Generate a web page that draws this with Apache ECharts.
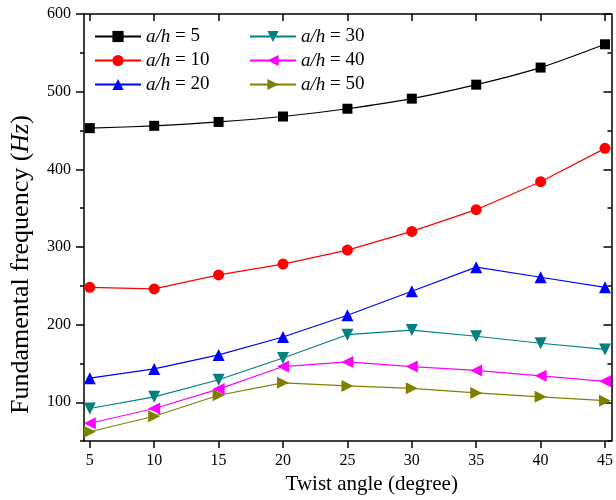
<!DOCTYPE html>
<html>
<head>
<meta charset="utf-8">
<script src="https://cdn.jsdelivr.net/npm/echarts@6/dist/echarts.min.js"></script>
<style>
  html, body { margin: 0; padding: 0; background: #fff; }
  #chart { width: 616px; height: 500px; }
</style>
</head>
<body>
<div id="chart"></div>
<script>
// twist angle (degree)
const angles = [5, 10, 15, 20, 25, 30, 35, 40, 45];
// fundamental frequency (Hz) for each a/h ratio
const ah5 = [453, 456, 461, 468, 478, 491, 509, 531, 561];
const ah10 = [248, 246, 264, 278, 296, 320, 348, 384, 427];
const ah20 = [131, 143, 161, 184, 212, 243, 274, 261, 248];
const ah30 = [92, 107, 129, 157, 187, 193, 185, 176, 168];
const ah40 = [73, 92, 117, 146, 152, 146, 141, 134, 127];
const ah50 = [62, 82, 109, 125, 121, 118, 112, 107, 102];

const xTicks = [5, 10, 15, 20, 25, 30, 35, 40, 45];
const yTicks = [100, 200, 300, 400, 500, 600];
const yMinorTicks = [50, 150, 250, 350, 450, 550];

const font = 'Liberation Serif';

const chart = echarts.init(document.getElementById('chart'));

const pairs = (ys) => angles.map((x, i) => [x, ys[i]]);

const mkSeries = (name, ys, color, symbol, size, rotate, smooth) => ({
  name: name,
  type: 'line',
  data: pairs(ys),
  symbol: symbol,
  symbolSize: size,
  symbolRotate: rotate,
  smooth: smooth,
  lineStyle: { color: color, width: 1.2 },
  itemStyle: { color: color },
  emphasis: { disabled: true },
  z: 3
});

const legendText = {
  fontFamily: font,
  fontSize: 19,
  color: '#000',
  rich: { i: { fontFamily: font, fontSize: 19, fontStyle: 'italic', color: '#000' } }
};
const legendFmt = (name) => '{i|a/h} = ' + name.split('= ')[1];

const axisLine = { show: true, lineStyle: { color: '#000', width: 1.5 } };

const options = {
  animation: false,
  backgroundColor: '#fff',
  grid: { left: 82, right: 4, top: 14, bottom: 58 },
  legend: [
    {
      data: ['a/h = 5', 'a/h = 10', 'a/h = 20'],
      orient: 'vertical',
      left: 89, top: 22,
      itemWidth: 46, itemHeight: 14, itemGap: 5,
      textStyle: legendText,
      formatter: legendFmt
    },
    {
      data: ['a/h = 30', 'a/h = 40', 'a/h = 50'],
      orient: 'vertical',
      left: 244, top: 22,
      itemWidth: 46, itemHeight: 14, itemGap: 5,
      textStyle: legendText,
      formatter: legendFmt
    }
  ],
  xAxis: [
    {
      type: 'value',
      position: 'bottom',
      min: 4.55, max: 45.5,
      axisLine: axisLine,
      axisTick: { show: true, customValues: xTicks, length: 7, lineStyle: { color: '#000', width: 1.5 } },
      axisLabel: { customValues: xTicks, fontFamily: font, fontSize: 16, color: '#000', margin: 12 },
      splitLine: { show: false },
      name: 'Twist angle (degree)',
      nameLocation: 'middle',
      nameGap: 29,
      nameTextStyle: { fontFamily: font, fontSize: 21, color: '#000', padding: [0, 0, 0, 48] }
    },
    {
      type: 'value',
      position: 'top',
      min: 4.55, max: 45.5,
      axisLine: axisLine,
      axisTick: { show: true, inside: true, customValues: xTicks, length: 7, lineStyle: { color: '#000', width: 1.5 } },
      axisLabel: { show: false },
      splitLine: { show: false }
    }
  ],
  yAxis: [
    {
      type: 'value',
      position: 'left',
      min: 50, max: 600,
      axisLine: axisLine,
      axisTick: { show: true, customValues: yTicks, length: 8, lineStyle: { color: '#000', width: 1.5 } },
      axisLabel: { customValues: yTicks, fontFamily: font, fontSize: 16, color: '#000', margin: 13 },
      splitLine: { show: false },
      name: 'Fundamental frequency ({i|Hz})',
      nameLocation: 'middle',
      nameGap: 50,
      nameTextStyle: {
        fontFamily: font, fontSize: 26, color: '#000', padding: [0, 74, 0, 0],
        rich: { i: { fontFamily: font, fontSize: 26, fontStyle: 'italic', color: '#000' } }
      }
    },
    {
      // short minor ticks on the left
      type: 'value',
      position: 'left',
      min: 50, max: 600,
      axisLine: { show: false },
      axisTick: { show: true, customValues: yMinorTicks, length: 4, lineStyle: { color: '#000', width: 1.5 } },
      axisLabel: { show: false },
      splitLine: { show: false }
    },
    {
      type: 'value',
      position: 'right',
      min: 50, max: 600,
      axisLine: axisLine,
      axisTick: { show: true, inside: true, customValues: yTicks, length: 8, lineStyle: { color: '#000', width: 1.5 } },
      axisLabel: { show: false },
      splitLine: { show: false }
    },
    {
      type: 'value',
      position: 'right',
      min: 50, max: 600,
      axisLine: { show: false },
      axisTick: { show: true, inside: true, customValues: yMinorTicks, length: 4, lineStyle: { color: '#000', width: 1.5 } },
      axisLabel: { show: false },
      splitLine: { show: false }
    }
  ],
  series: [
    mkSeries('a/h = 5', ah5, '#000000', 'rect', 10, 0, 0.25),
    mkSeries('a/h = 10', ah10, '#ff0000', 'circle', 11, 0, false),
    mkSeries('a/h = 20', ah20, '#0000ff', 'triangle', 12, 0, false),
    mkSeries('a/h = 30', ah30, '#008080', 'triangle', 12, 180, false),
    mkSeries('a/h = 40', ah40, '#ff00ff', 'triangle', 12, 90, false),
    mkSeries('a/h = 50', ah50, '#808000', 'triangle', 12, -90, false)
  ]
};

chart.setOption(options);
</script>
</body>
</html>
